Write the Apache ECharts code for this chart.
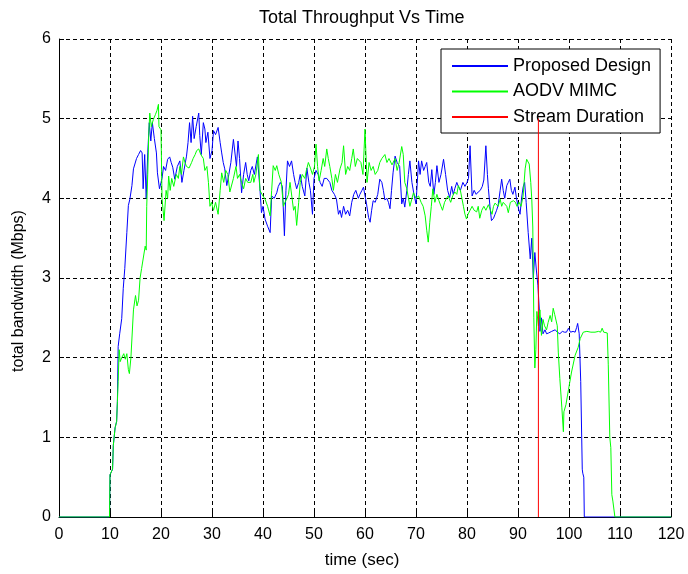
<!DOCTYPE html>
<html><head><meta charset="utf-8">
<script src="https://cdn.jsdelivr.net/npm/echarts@6/dist/echarts.min.js"></script>
<style>html,body{margin:0;padding:0;background:#fff}#c{width:688px;height:574px}</style>
</head><body><div id="c"></div>
<script>
// ---- data ----
const xTicks = [0,10,20,30,40,50,60,70,80,90,100,110,120];
const yTicks = [0,1,2,3,4,5,6];
const seriesNames = ['Proposed Design','AODV MIMC','Stream Duration'];

const proposedTime = [0,9.9,10.0,10.5,10.65,11.0,11.3,11.45,11.6,11.9,12.3,12.6,12.9,13.3,13.6,13.9,14.3,14.6,15.2,15.6,16.0,16.3,16.5,16.8,17.1,17.4,17.7,18.0,18.3,18.7,19.1,19.3,19.7,20.0,20.2,20.5,20.9,21.3,21.7,22.0,22.3,22.7,23.2,23.7,24.1,24.5,25.0,25.3,25.6,25.9,26.2,26.5,26.9,27.4,27.6,27.9,28.3,28.6,28.8,29.2,29.6,30.0,30.3,30.7,31.2,31.6,31.9,32.2,32.5,32.9,33.3,33.7,34.2,34.5,34.8,35.1,35.4,35.8,36.2,36.6,36.9,37.2,37.6,37.9,38.3,38.9,39.4,39.7,40.0,40.4,40.9,41.4,41.7,42.2,42.7,43.0,43.4,43.8,44.2,44.5,44.8,45.2,45.6,46.0,46.3,46.6,47.0,47.3,47.7,48.2,48.6,49.0,49.3,49.7,50.0,50.4,50.8,51.2,51.6,52.0,52.5,53.1,53.5,54.0,54.4,54.8,55.1,55.4,55.8,56.2,56.6,57.0,57.4,57.8,58.2,58.7,59.0,59.4,59.7,60.0,60.3,60.7,61.0,61.3,61.6,62.0,62.5,62.9,63.3,63.6,63.9,64.3,64.6,64.9,65.2,65.5,65.9,66.3,66.8,67.2,67.5,67.8,68.2,68.5,68.8,69.2,69.6,70.0,70.5,70.8,71.1,71.5,71.8,72.1,72.5,72.8,73.1,73.5,73.8,74.1,74.5,74.9,75.4,75.8,76.2,76.6,77.0,77.3,77.6,78.0,78.3,78.7,79.2,79.6,80.0,80.3,80.6,81.0,81.4,81.8,82.2,82.6,83.0,83.3,83.7,84.0,84.2,84.5,84.8,85.2,85.5,85.8,86.1,86.5,86.8,87.1,87.4,87.8,88.1,88.4,88.7,89.0,89.4,89.7,90.1,90.4,90.7,91.0,91.3,91.6,92.0,92.4,92.7,93.0,93.3,93.6,93.9,94.2,94.3,94.6,94.9,95.3,95.6,96.0,96.3,96.6,96.9,97.3,97.7,98.2,98.7,99.1,99.5,99.9,100.3,100.8,101.2,101.5,101.7,102.0,102.3,102.6,102.7,102.9,103.0,120];
const proposedBw = [0,0,0.53,0.6,0.9,1.12,1.2,1.45,2.14,2.3,2.49,2.87,3.12,3.57,3.91,3.99,4.16,4.37,4.5,4.55,4.6,4.57,4.12,4.55,4.0,4.57,4.95,4.72,4.95,4.75,4.57,4.32,4.12,4.2,4.25,4.4,4.35,4.49,4.52,4.45,4.39,4.24,4.4,4.47,4.2,4.35,4.53,4.7,4.95,4.7,5.03,4.75,4.9,5.07,4.79,4.55,4.95,4.87,4.7,4.83,4.5,4.6,4.85,4.8,4.89,4.7,4.57,4.45,4.37,4.16,4.3,4.45,4.74,4.76,4.4,4.72,4.5,4.07,4.3,4.45,4.3,4.22,4.35,4.4,4.3,4.52,4.12,3.82,3.9,3.74,3.65,3.57,4.03,4.0,4.07,4.15,4.2,4.15,3.53,4.1,4.47,4.4,4.47,4.3,4.2,4.12,4.2,4.3,4.15,4.03,4.38,4.2,4.1,3.8,4.25,4.35,4.3,4.2,4.15,4.25,4.25,4.2,4.1,4.05,3.99,3.8,3.85,3.76,3.9,3.8,3.85,3.78,3.95,4.05,4.1,4.0,4.05,4.1,4.14,4.12,3.93,3.76,3.7,3.85,3.97,3.95,4.05,4.24,4.2,4.1,3.98,4.0,3.95,3.87,4.1,4.32,4.53,4.45,4.4,3.93,4.0,3.89,4.1,4.3,4.47,4.2,4.05,3.93,4.47,4.3,4.47,4.35,4.4,4.45,4.2,4.15,4.36,4.05,4.2,4.41,4.2,4.3,4.49,4.3,4.1,4.01,4.15,4.05,4.12,4.2,4.15,4.1,4.2,4.15,4.2,4.25,4.66,4.03,4.1,4.05,4.08,4.1,4.15,4.23,4.66,4.3,4.12,3.9,3.72,3.75,3.8,3.85,3.91,4.1,4.24,4.1,4.0,4.16,4.2,4.24,4.1,4.05,4.14,4.0,3.87,3.8,4.0,4.14,4.2,3.95,3.57,3.24,3.5,2.99,3.32,3.1,2.91,2.58,2.33,2.5,2.3,2.35,2.3,2.31,2.29,2.33,2.32,2.35,2.32,2.3,2.33,2.32,2.32,2.37,2.32,2.33,2.32,2.38,2.43,2.3,1.7,0.6,0.55,0.5,0,0];

const aodvTime = [0,9.9,10.0,10.5,10.65,11.0,11.3,11.45,11.6,11.8,12.0,12.3,12.7,13.0,13.3,13.6,13.8,14.1,14.3,14.6,15.0,15.3,15.6,15.9,16.2,16.5,16.9,17.1,17.2,17.4,17.6,17.8,18.1,18.5,18.9,19.2,19.5,19.6,20.0,20.2,20.6,21.0,21.3,21.5,21.8,22.1,22.5,23.0,23.4,23.7,24.0,24.4,24.7,25.0,25.5,26.0,26.3,26.7,27.0,27.4,27.8,28.3,28.6,29.0,29.3,29.6,29.9,30.3,30.7,31.2,31.6,31.9,32.3,32.7,33.1,33.5,33.8,34.2,34.7,35.0,35.4,35.8,36.2,36.6,37.0,37.6,38.0,38.2,38.6,39.1,39.4,39.8,40.4,40.9,41.4,41.7,42.0,42.4,42.7,43.1,43.6,44.0,44.3,44.7,45.0,45.3,45.7,46.0,46.3,46.6,47.0,47.3,47.7,48.2,48.5,48.9,49.3,49.7,50.1,50.4,50.7,51.0,51.4,51.8,52.1,52.5,52.8,53.1,53.5,53.8,54.2,54.6,55.1,55.5,55.8,56.2,56.6,57.0,57.4,57.7,58.1,58.5,59.2,59.6,60.0,60.4,60.8,61.2,61.6,62.0,62.5,62.9,63.3,63.9,64.3,64.7,65.3,65.9,66.3,66.7,67.2,67.5,67.8,68.2,68.8,69.5,70.0,70.5,71.0,71.4,71.8,72.1,72.4,72.7,73.0,73.3,73.7,74.1,74.5,74.9,75.2,75.6,76.0,76.3,76.8,77.2,77.6,78.0,78.3,78.7,79.0,79.3,79.6,79.9,80.2,80.6,81.0,81.4,81.9,82.2,82.5,82.9,83.3,83.7,84.2,84.6,84.9,85.2,85.5,86.1,86.5,86.8,87.1,87.4,87.8,88.1,88.5,89.1,89.5,89.8,90.2,90.6,91.0,91.4,91.7,92.2,92.5,92.7,92.9,93.1,93.3,93.5,93.7,94.0,94.3,94.6,94.9,95.2,95.6,95.9,96.3,96.6,96.9,97.2,97.5,97.7,97.9,98.2,98.6,98.9,99.0,99.4,99.9,100.5,101.2,101.8,102.2,102.8,103.5,104.3,105.1,105.8,106.2,106.5,106.8,107.1,107.5,107.7,108.0,108.2,108.4,108.6,109.0,120];
const aodvBw = [0,0,0.53,0.6,0.9,1.12,1.2,1.45,1.7,2.1,1.95,2.0,2.05,1.98,2.05,1.85,1.8,2.0,2.02,2.6,2.78,2.65,2.72,3.0,3.12,3.1,3.4,3.35,3.9,4.3,4.8,5.07,4.9,4.99,5.05,5.1,5.18,4.9,4.86,4.0,3.72,4.1,4.0,4.28,4.1,4.25,4.15,4.3,4.25,4.4,4.3,4.52,4.45,4.4,4.38,4.45,4.5,4.55,4.6,4.62,4.55,4.5,4.35,4.4,4.2,3.9,3.95,3.85,3.95,3.8,4.1,4.32,4.2,4.35,4.3,4.08,4.1,4.25,4.4,4.25,4.3,4.2,4.12,4.25,4.2,4.2,4.3,4.2,4.3,4.55,4.1,4.05,3.99,3.9,3.78,4.1,4.41,4.35,4.41,4.3,4.2,3.9,3.95,4.0,4.05,4.2,4.0,3.85,3.9,3.66,3.95,4.2,4.3,4.25,4.35,4.45,4.38,4.3,4.4,4.68,4.4,4.22,4.35,4.5,4.4,4.62,4.5,4.4,4.25,4.1,4.3,4.2,4.37,4.45,4.66,4.3,4.4,4.35,4.5,4.62,4.4,4.5,4.45,4.3,4.87,4.2,4.45,4.35,4.4,4.3,4.35,4.45,4.5,4.55,4.45,4.5,4.42,4.5,4.35,4.45,4.65,4.55,4.2,4.12,3.9,4.07,4.0,4.03,3.95,3.9,3.78,3.6,3.45,3.7,3.9,4.12,3.95,4.05,3.97,3.9,3.85,3.95,4.0,4.03,3.95,4.03,4.08,4.05,4.16,4.1,4.0,3.9,3.8,3.74,3.8,3.85,3.9,3.85,3.83,3.9,3.75,3.85,3.9,3.85,3.92,3.85,3.8,3.9,3.94,3.9,3.99,3.9,3.95,3.93,3.9,3.82,3.95,3.97,3.95,3.9,3.95,3.9,4.03,4.37,4.49,4.43,4.2,3.99,3.64,2.5,1.87,2.1,2.58,2.4,2.6,2.28,2.48,2.4,2.35,2.44,2.53,2.45,2.62,2.54,2.55,2.4,2.07,1.74,1.37,1.07,1.32,1.41,1.6,1.82,2.03,2.13,2.24,2.32,2.33,2.32,2.32,2.33,2.32,2.37,2.32,2.33,2.31,1.91,1.0,0.87,0.28,0.2,0,0];

const streamTime = [94,94];
const streamBw = [0,5];

// ---- chart ----
const zip = (a,b) => a.map((t,i) => [t,b[i]]);
const chart = echarts.init(document.getElementById('c'), null, {renderer:'canvas'});
const font = 'Liberation Sans, Arial, sans-serif';
const grid = {type:[4,3], color:'#000', width:1};
chart.setOption({
  animation:false,
  backgroundColor:'#fff',
  title:{text:'Total Throughput Vs Time', left:259, top:9, padding:0,
    textStyle:{fontFamily:font,fontSize:18,fontWeight:'normal',color:'#000'}},
  grid:{left:59,top:39,right:17,bottom:55,containLabel:false},
  legend:{orient:'vertical', left:441, top:49,
    data:seriesNames.map(n=>({name:n,icon:'rect'})), backgroundColor:'#fff', borderColor:'#000', borderWidth:1,
    padding:[8,9,7,11], itemWidth:56, itemHeight:2, itemGap:7.5,
    textStyle:{fontFamily:font,fontSize:18,color:'#000'}},
  xAxis:{type:'value', min:xTicks[0], max:xTicks[xTicks.length-1], interval:10,
    name:'time (sec)', nameLocation:'middle', nameGap:35,
    nameTextStyle:{fontFamily:font,fontSize:17,color:'#000',padding:[0,6,0,0]},
    axisLine:{lineStyle:{color:'#000',width:1}},
    axisTick:{inside:true,length:5,lineStyle:{color:'#000'}},
    axisLabel:{fontFamily:font,fontSize:16,color:'#000',margin:10},
    splitLine:{show:true,lineStyle:grid}},
  yAxis:{type:'value', min:yTicks[0], max:yTicks[yTicks.length-1], interval:1,
    name:'total bandwidth (Mbps)', nameLocation:'middle', nameGap:32,
    nameTextStyle:{fontFamily:font,fontSize:16,color:'#000',padding:[0,26,0,0]},
    axisLine:{show:true,lineStyle:{color:'#000',width:1}},
    axisTick:{show:true,inside:true,length:5,lineStyle:{color:'#000'}},
    axisLabel:{fontFamily:font,fontSize:16,color:'#000',margin:8},
    splitLine:{show:true,lineStyle:grid}},
  series:[
    {name:seriesNames[0],type:'line',data:zip(proposedTime,proposedBw),symbol:'none',
      lineStyle:{color:'#0000ff',width:1},itemStyle:{color:'#0000ff'},z:2},
    {name:seriesNames[1],type:'line',data:zip(aodvTime,aodvBw),symbol:'none',
      lineStyle:{color:'#00ff00',width:1},itemStyle:{color:'#00ff00'},z:3},
    {name:seriesNames[2],type:'line',data:zip(streamTime,streamBw),symbol:'none',
      lineStyle:{color:'#ff0000',width:1},itemStyle:{color:'#ff0000'},z:4}
  ]
});
</script></body></html>
